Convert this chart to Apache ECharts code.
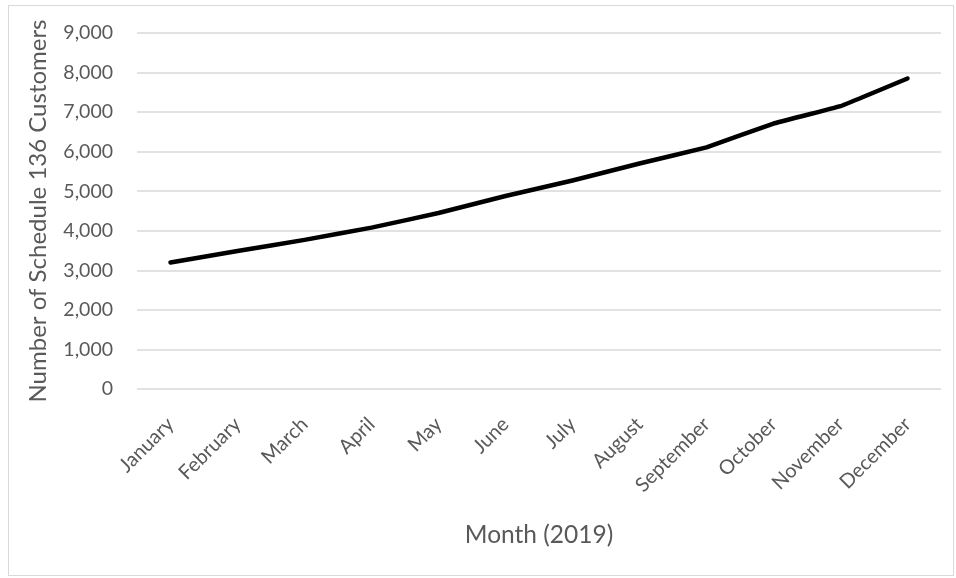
<!DOCTYPE html>
<html>
<head>
<meta charset="utf-8">
<script src="https://cdn.jsdelivr.net/npm/echarts@6/dist/echarts.min.js"></script>
<style>
  html, body { margin: 0; padding: 0; background: #fff; }
  #frame { position: absolute; left: 8px; top: 5px; width: 946px; height: 571px; border: 1px solid #d9d9d9; box-sizing: border-box; }
  #chart { width: 956px; height: 578px; }
</style>
</head>
<body>
<div id="frame"></div>
<div id="chart"></div>
<script>
const months = ['January', 'February', 'March', 'April', 'May', 'June', 'July', 'August', 'September', 'October', 'November', 'December'];
const customers = [3200, 3490, 3770, 4080, 4450, 4880, 5270, 5700, 6110, 6710, 7150, 7850];

const TEXT_COLOR = '#595959';
const FONT = 'Lato, "Open Sans", sans-serif';

const chart = echarts.init(document.getElementById('chart'));
chart.setOption({
  animation: false,
  grid: { left: 137, right: 15, top: 33, bottom: 189 },
  xAxis: {
    type: 'category',
    data: months,
    boundaryGap: true,
    name: 'Month (2019)',
    nameLocation: 'middle',
    nameGap: 134,
    nameTextStyle: { color: TEXT_COLOR, fontSize: 24.5, fontFamily: FONT },
    axisLine: { show: false },
    axisTick: { show: false },
    axisLabel: { rotate: 45, margin: 32, color: TEXT_COLOR, fontSize: 20, fontFamily: FONT, interval: 0 }
  },
  yAxis: {
    type: 'value',
    min: 0,
    max: 9000,
    interval: 1000,
    name: 'Number of Schedule 136 Customers',
    nameLocation: 'middle',
    nameGap: 87,
    nameTextStyle: { color: TEXT_COLOR, fontSize: 24, fontFamily: FONT },
    axisLine: { show: false },
    axisTick: { show: false },
    axisLabel: {
      margin: 24,
      color: TEXT_COLOR,
      fontSize: 19.5,
      fontFamily: FONT,
      formatter: v => v.toLocaleString('en-US')
    },
    splitLine: { lineStyle: { color: '#d9d9d9', width: 1.5 } }
  },
  series: [{
    type: 'line',
    data: customers,
    symbol: 'none',
    smooth: 0.05,
    lineStyle: { color: '#000', width: 4.5, cap: 'round', join: 'round' }
  }]
});
</script>
</body>
</html>
